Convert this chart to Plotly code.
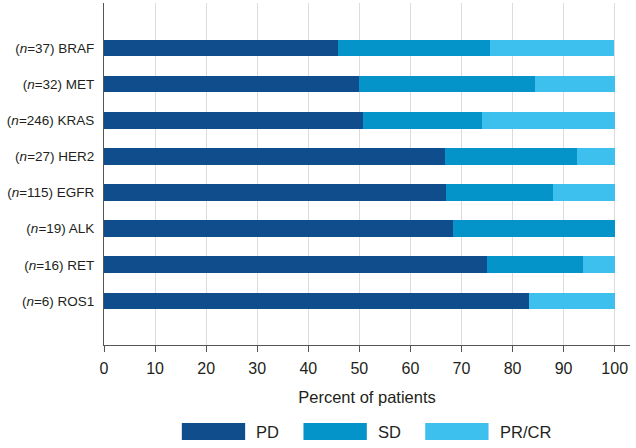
import plotly.graph_objects as go

genes = ["BRAF", "MET", "KRAS", "HER2", "EGFR", "ALK", "RET", "ROS1"]
n_patients = [37, 32, 246, 27, 115, 19, 16, 6]
pd_pct = [45.9, 50.0, 50.8, 66.7, 67.0, 68.4, 75.0, 83.3]
sd_pct = [29.7, 34.4, 23.2, 25.9, 20.9, 31.6, 18.8, 0.0]
pr_pct = [24.3, 15.6, 26.0, 7.4, 12.2, 0.0, 6.3, 16.7]
series_names = ["PD", "SD", "PR/CR"]
colors = ["#0f4d8c", "#0594c9", "#3ec0ee"]
x_ticks = list(range(0, 101, 10))
x_title = "Percent of patients"

ticktext = [f"(<i>n</i>={n}) {g}" for n, g in zip(n_patients, genes)]
TXT = "#231f20"
FONT = "Liberation Sans, Arial, sans-serif"

fig = go.Figure()
for name, vals, col in zip(series_names, [pd_pct, sd_pct, pr_pct], colors):
    fig.add_trace(go.Bar(
        y=genes, x=vals, name=name, orientation="h",
        marker=dict(color=col, line=dict(width=0)),
        width=0.46, showlegend=False,
    ))

# manual legend swatches (wide rectangles like the reference)
L, R, T, B = 103.9, 6.3, 3, 103
W, H = 636, 448
pw, ph = W - L - R, H - T - B
sw_x0 = [181.7, 303.3, 425.0]
sw_w = 63.3
sw_y0, sw_y1 = 423, 440
for x0, col, name in zip(sw_x0, colors, series_names):
    fig.add_shape(type="rect", xref="paper", yref="paper",
                  x0=(x0 - L) / pw, x1=(x0 + sw_w - L) / pw,
                  y0=(H - B - sw_y1) / ph, y1=(H - B - sw_y0) / ph,
                  fillcolor=col, line=dict(width=0))
    fig.add_annotation(xref="paper", yref="paper",
                       x=(x0 + sw_w + 9 - L) / pw, y=(H - B - (sw_y0 + sw_y1) / 2) / ph,
                       text=name, showarrow=False, xanchor="left", yanchor="middle",
                       font=dict(size=16.5, color=TXT, family=FONT))

fig.update_layout(
    barmode="stack",
    width=W, height=H,
    margin=dict(l=L, r=R, t=T, b=B, pad=0, autoexpand=False),
    paper_bgcolor="white", plot_bgcolor="white",
    font=dict(family=FONT, color=TXT),
    bargap=0,
)
fig.update_xaxes(
    range=[0, 103], tickvals=x_ticks, ticktext=[str(v) for v in x_ticks],
    showgrid=True, gridcolor="#dcdcdc", gridwidth=1, zeroline=False,
    showline=True, linecolor="#555555", linewidth=1,
    ticks="outside", ticklen=6, tickcolor="#555555", tickwidth=1,
    ticklabelstandoff=3,
    tickfont=dict(size=16, color=TXT), automargin=False,
    title=dict(text=x_title, font=dict(size=16.5, color=TXT), standoff=15),
)
fig.update_yaxes(
    type="category", categoryorder="array", categoryarray=genes,
    range=[8.22, -1.245], tickvals=genes, ticktext=ticktext,
    showgrid=False, zeroline=False,
    showline=True, linecolor="#555555", linewidth=1,
    ticks="", ticklabelstandoff=6, automargin=False,
    tickfont=dict(size=13.5, color=TXT),
)

fig.write_html("out.html", config={"displayModeBar": False},
               post_script="document.body.style.margin='0';document.body.style.padding='0';")
